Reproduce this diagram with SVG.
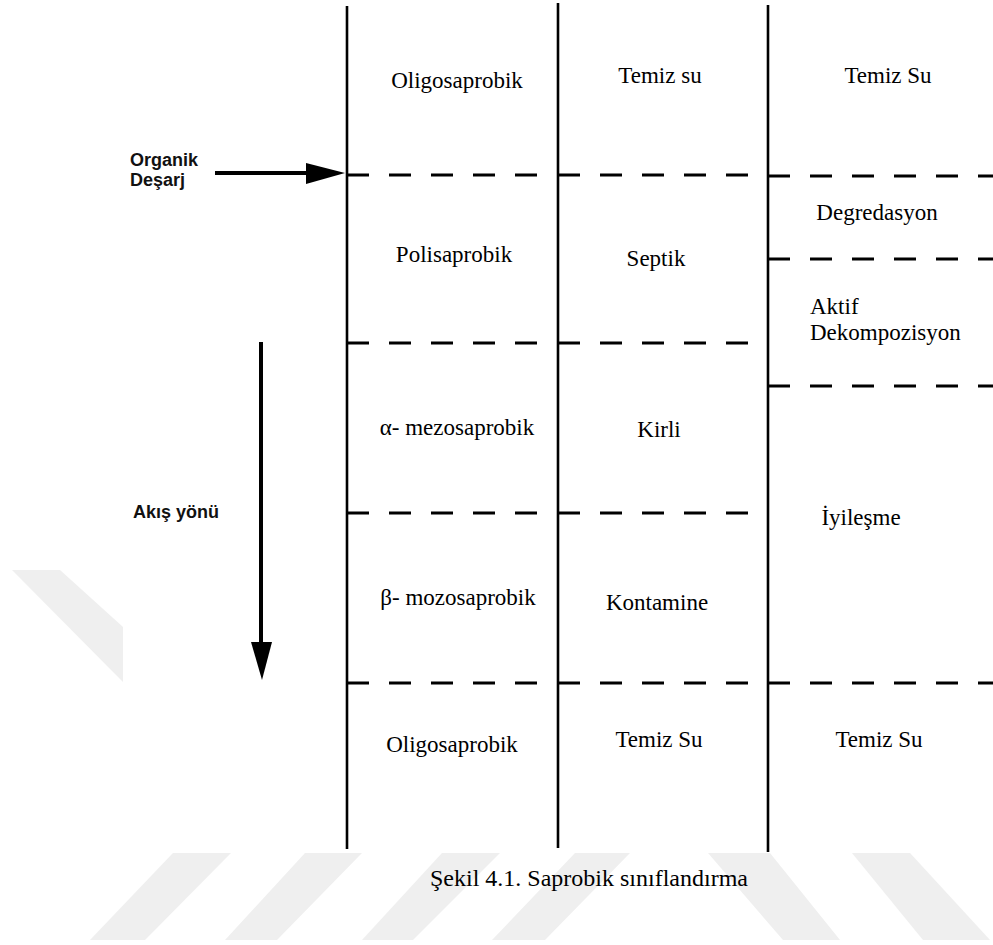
<svg xmlns="http://www.w3.org/2000/svg" width="993" height="945" viewBox="0 0 993 945">
<style>
.bg{fill:#ffffff}
.wm{fill:#efefef}
.col{stroke:#000;stroke-width:2.6;fill:none}
.dash{stroke:#000;stroke-width:3;fill:none;stroke-dasharray:22 20}
.arr{stroke:#000;stroke-width:4;fill:none}
.head{fill:#000}
.t{font-family:"Liberation Serif","Times New Roman",serif;font-size:23px;fill:#000}
.b{font-family:"Liberation Sans",Arial,sans-serif;font-size:18px;font-weight:bold;fill:#111}
.cap{font-family:"Liberation Serif","Times New Roman",serif;font-size:24px;fill:#000}
</style>
<rect class="bg" x="0" y="0" width="993" height="945"/>
<g id="watermark">
<polygon class="wm" points="12,570 60,570 123,627 123,682"/>
<polygon class="wm" points="173,853 231,853 145,940 90,940"/>
<polygon class="wm" points="305,853 362,853 277,940 225,940"/>
<polygon class="wm" points="442,853 500,853 413,940 362,940"/>
<polygon class="wm" points="575,853 630,853 545,940 492,940"/>
<polygon class="wm" points="708,853 770,853 840,940 783,940"/>
<polygon class="wm" points="852,853 910,853 990,940 923,940"/>
</g>
<g id="columns">
<line class="col" x1="347" y1="6" x2="347" y2="849"/>
<line class="col" x1="558" y1="3" x2="558" y2="848"/>
<line class="col" x1="768" y1="5" x2="768" y2="852"/>
</g>
<g id="connectors">
<line class="dash" x1="347" y1="175" x2="540" y2="175"/>
<line class="dash" x1="558" y1="175" x2="748" y2="175"/>
<line class="dash" x1="768" y1="176" x2="993" y2="176"/>
<line class="dash" x1="768" y1="259" x2="993" y2="259"/>
<line class="dash" x1="347" y1="343" x2="540" y2="343"/>
<line class="dash" x1="558" y1="343" x2="748" y2="343"/>
<line class="dash" x1="768" y1="386" x2="993" y2="386"/>
<line class="dash" x1="347" y1="513" x2="540" y2="513"/>
<line class="dash" x1="558" y1="513" x2="748" y2="513"/>
<line class="dash" x1="347" y1="683" x2="540" y2="683"/>
<line class="dash" x1="558" y1="683" x2="748" y2="683"/>
<line class="dash" x1="768" y1="683" x2="993" y2="683"/>
<line class="arr" x1="215" y1="173" x2="310" y2="173"/>
<polygon class="head" points="306,163 345,173 306,184"/>
<line class="arr" x1="261" y1="342" x2="261" y2="646"/>
<polygon class="head" points="251,642 272,642 262,680"/>
</g>
<g id="labels-left">
<text class="b" x="130" y="166">Organik</text>
<text class="b" x="130" y="186">Deşarj</text>
<text class="b" x="133" y="518">Akış yönü</text>
</g>
<g id="col1">
<text class="t" x="457" y="88" text-anchor="middle">Oligosaprobik</text>
<text class="t" x="454" y="262" text-anchor="middle">Polisaprobik</text>
<text class="t" x="457" y="435" text-anchor="middle">α- mezosaprobik</text>
<text class="t" x="458" y="605" text-anchor="middle">β- mozosaprobik</text>
<text class="t" x="452" y="752" text-anchor="middle">Oligosaprobik</text>
</g>
<g id="col2">
<text class="t" x="660" y="83" text-anchor="middle">Temiz su</text>
<text class="t" x="656" y="266" text-anchor="middle">Septik</text>
<text class="t" x="659" y="437" text-anchor="middle">Kirli</text>
<text class="t" x="657" y="610" text-anchor="middle">Kontamine</text>
<text class="t" x="659" y="747" text-anchor="middle">Temiz Su</text>
</g>
<g id="col3">
<text class="t" x="888" y="83" text-anchor="middle">Temiz Su</text>
<text class="t" x="877" y="220" text-anchor="middle">Degredasyon</text>
<text class="t" x="810" y="314">Aktif</text>
<text class="t" x="810" y="340">Dekompozisyon</text>
<text class="t" x="861" y="525" text-anchor="middle">İyileşme</text>
<text class="t" x="879" y="747" text-anchor="middle">Temiz Su</text>
</g>
<text class="cap" x="430" y="886">Şekil 4.1. Saprobik sınıflandırma</text>
</svg>
